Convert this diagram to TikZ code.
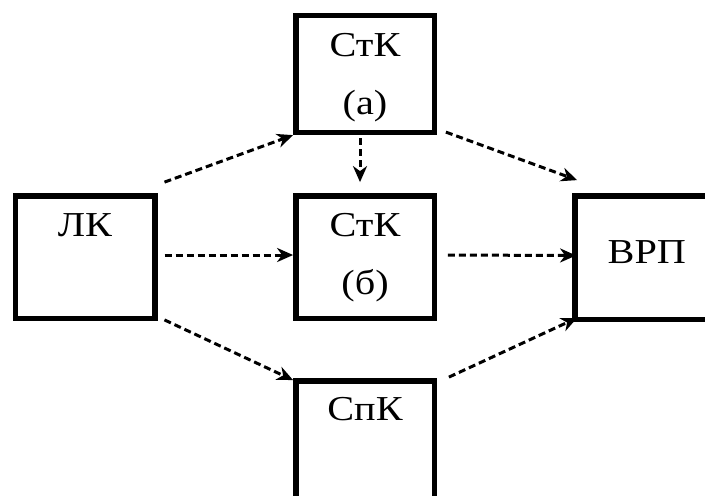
\documentclass[tikz,border=0pt]{standalone}
\usepackage{fontspec}
\setmainfont[FakeStretch=1.15]{Liberation Serif}
\usetikzlibrary{arrows.meta,calc}
\begin{document}
\begin{tikzpicture}[x=0.5pt,y=-0.5pt,
    blk/.style={draw, line width=2.7pt, minimum width=69.2pt, minimum height=61.2pt, inner sep=0pt},
    txt/.style={inner sep=0pt, font=\fontsize{17.5}{29}\selectfont, align=center},
    flow/.style={line width=1.5pt, dash pattern=on 3.5pt off 2pt, -{Stealth[length=8pt,width=7pt,inset=2.5pt]}}]
    \useasboundingbox (0,0) rectangle (705,495);
    \clip (0,0) rectangle (705,495);

    % Boxes
    \node[blk, minimum height=58.4pt] (stka) at (365,74) {};
    \node[blk, minimum width=69.8pt] (lk) at (85,257) {};
    \node[blk] (stkb) at (365,257) {};
    \node[blk, minimum width=70pt, minimum height=61.7pt] (vrp) at (644.8,257.5) {};
    \node[blk] (spk) at (365,442) {};

    % Labels
    \node[txt, anchor=north] (stka-t) at ($(stka.north)+(0,20)$) {СтК\\(а)};
    \node[txt, anchor=north] (lk-t) at ($(lk.north)+(0,20)$) {ЛК};
    \node[txt, anchor=north] (stkb-t) at ($(stkb.north)+(0,20)$) {СтК\\(б)};
    \node[txt] (vrp-t) at ($(vrp.center)+(2,-5)$) {ВРП};
    \node[txt, anchor=north] (spk-t) at ($(spk.north)+(0,19)$) {СпК};

    % Links
    \draw[flow] ($(lk.north east)+(7,-11)$) -- (stka.south west);
    \draw[flow] ($(stka.south)+(-5,3)$) -- ($(stkb.north)+(-5,-11)$);
    \draw[flow] ($(stka.south east)+(9,-3)$) -- ($(vrp.north west)+(5,-13)$);
    \draw[flow] ($(lk.east)+(7,-2)$) -- ($(stkb.west)+(0,-2)$);
    \draw[flow] ($(stkb.east)+(11,-2)$) -- ($(vrp.west)+(4,-2)$);
    \draw[flow] ($(lk.south east)+(7,-1)$) -- ($(spk.north west)+(0,2)$);
    \draw[flow] ($(spk.north east)+(12,-1)$) -- ($(vrp.south west)+(5,-4)$);
\end{tikzpicture}
\end{document}
